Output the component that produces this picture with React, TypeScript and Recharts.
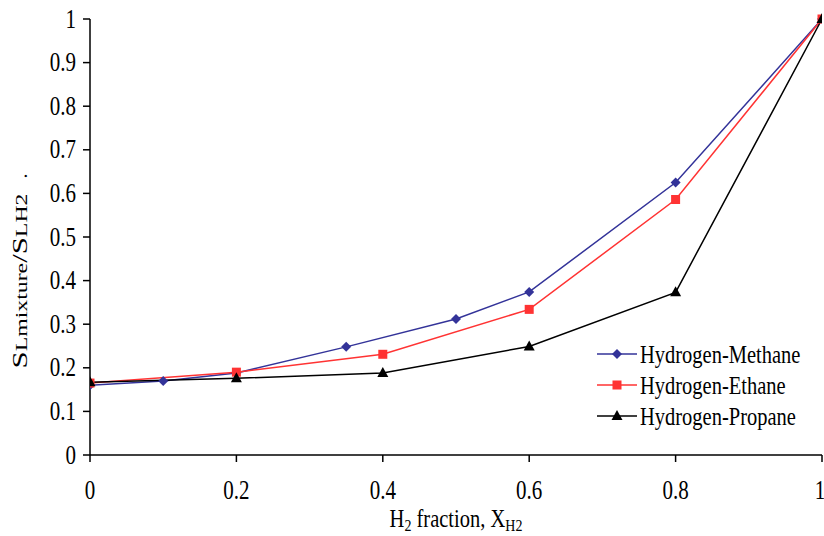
import React from "react";
import { Line, LineChart, XAxis, YAxis } from "recharts";

const methaneX = [0, 0.1, 0.2, 0.35, 0.5, 0.6, 0.8, 1];
const methaneY = [0.16, 0.17, 0.188, 0.248, 0.312, 0.374, 0.625, 1];
const ethaneX = [0, 0.2, 0.4, 0.6, 0.8, 1];
const ethaneY = [0.165, 0.19, 0.231, 0.334, 0.586, 1];
const propaneX = [0, 0.2, 0.4, 0.6, 0.8, 1];
const propaneY = [0.167, 0.176, 0.188, 0.249, 0.373, 1];

const xTicks = [0, 0.2, 0.4, 0.6, 0.8, 1];
const yTicks = [0, 0.1, 0.2, 0.3, 0.4, 0.5, 0.6, 0.7, 0.8, 0.9, 1];

const series = [
  { name: "Hydrogen-Methane", xs: methaneX, ys: methaneY, color: "#333399", shape: "diamond" },
  { name: "Hydrogen-Ethane", xs: ethaneX, ys: ethaneY, color: "#ff3333", shape: "square" },
  { name: "Hydrogen-Propane", xs: propaneX, ys: propaneY, color: "#000000", shape: "triangle" },
];

const FONT = "'Liberation Serif', 'Times New Roman', serif";
const STRETCH = 1.25; // the source figure's text is taller than it is wide

function Marker({ cx, cy, shape, color }: any) {
  if (cx == null || cy == null) return null;
  if (shape === "diamond") {
    const r = 5;
    return <polygon points={`${cx},${cy - r} ${cx + r},${cy} ${cx},${cy + r} ${cx - r},${cy}`} fill={color} />;
  }
  if (shape === "square") {
    return <rect x={cx - 4.5} y={cy - 4.5} width={9} height={9} fill={color} />;
  }
  return <polygon points={`${cx},${cy - 6} ${cx + 5.5},${cy + 4} ${cx - 5.5},${cy + 4}`} fill={color} />;
}

function XTick({ x, y, payload }: any) {
  return (
    <text
      transform={`translate(${x}, ${y + 35}) scale(1, ${STRETCH})`}
      textAnchor="middle"
      fontFamily={FONT}
      fontSize={21}
      fill="#000"
    >
      {String(payload.value)}
    </text>
  );
}

function YTick({ x, y, payload }: any) {
  return (
    <text
      transform={`translate(${x - 5}, ${y}) scale(1, ${STRETCH})`}
      dy="0.33em"
      textAnchor="end"
      fontFamily={FONT}
      fontSize={21}
      fill="#000"
    >
      {String(payload.value)}
    </text>
  );
}

function XTitle({ viewBox }: any) {
  const cx = viewBox.x + viewBox.width / 2;
  return (
    <text
      transform={`translate(${cx}, 527) scale(1, ${STRETCH})`}
      textAnchor="middle"
      fontFamily={FONT}
      fontSize={20.5}
      fill="#000"
    >
      H<tspan fontSize={14} dy={3}>2</tspan>
      <tspan dy={-3}> fraction, X</tspan>
      <tspan fontSize={14} dy={3}>H2</tspan>
    </text>
  );
}

function YTitle() {
  return (
    <g>
      <text
        transform="translate(27, 281) rotate(-90) scale(1.4, 1)"
        textAnchor="middle"
        fontFamily={FONT}
        fontSize={22}
        fill="#000"
      >
        S<tspan fontSize={17}>Lmixture</tspan>/S<tspan fontSize={17}>LH2</tspan>
      </text>
      <text transform="translate(27, 176) rotate(-90)" textAnchor="middle" fontFamily={FONT} fontSize={20} fill="#000">
        .
      </text>
    </g>
  );
}

function LegendBox() {
  return (
    <svg width={240} height={100} style={{ position: "absolute", left: 597, top: 338, overflow: "visible" }}>
      {series.map((s, i) => {
        const y = 16 + i * 31;
        return (
          <g key={s.name}>
            <line x1={0} x2={40} y1={y} y2={y} stroke={s.color} strokeWidth={1.5} />
            <Marker cx={20} cy={y} shape={s.shape} color={s.color} />
            <text
              transform={`translate(43, ${y}) scale(1, ${STRETCH})`}
              dy="0.35em"
              fontFamily={FONT}
              fontSize={20.5}
              fill="#000"
            >
              {s.name}
            </text>
          </g>
        );
      })}
    </svg>
  );
}

export default function App() {
  return (
    <div style={{ position: "absolute", left: 0, top: 0, width: 824, height: 536, background: "#fff" }}>
      <LineChart width={824} height={536} margin={{ top: 19, right: 2, bottom: 0, left: 0 }}>
        <XAxis
          type="number"
          dataKey="x"
          domain={[0, 1]}
          ticks={xTicks}
          height={81}
          stroke="#000"
          strokeWidth={1.5}
          tickSize={7}
          tick={<XTick />}
          allowDataOverflow
          label={<XTitle />}
        />
        <YAxis
          type="number"
          dataKey="y"
          domain={[0, 1]}
          ticks={yTicks}
          width={90}
          stroke="#000"
          strokeWidth={1.5}
          tickSize={7}
          tick={<YTick />}
          label={<YTitle />}
        />
        {series.map((s) => (
          <Line
            key={s.name}
            name={s.name}
            data={s.xs.map((x, i) => ({ x, y: s.ys[i] }))}
            dataKey="y"
            type="linear"
            stroke={s.color}
            strokeWidth={1.5}
            dot={(p: any) => <Marker key={`${s.name}-${p.index}`} cx={p.cx} cy={p.cy} shape={s.shape} color={s.color} />}
            activeDot={false}
            isAnimationActive={false}
          />
        ))}
      </LineChart>
      <LegendBox />
    </div>
  );
}
